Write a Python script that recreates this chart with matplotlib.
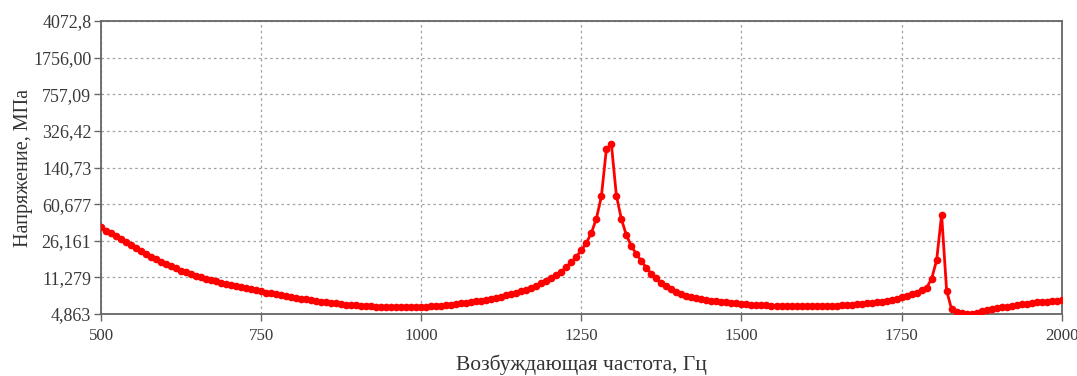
import numpy as np
import matplotlib
matplotlib.use("Agg")
import matplotlib.pyplot as plt
from matplotlib.ticker import FixedLocator, FixedFormatter, NullLocator

# Excitation frequency grid (Hz): 193 equally spaced points, 500..2000
freq = np.linspace(500, 2000, 193)

# Stress amplitude (MPa), one value per frequency point
stress = [
    35.5, 33.0, 30.9, 29.0, 27.1, 25.3, 23.6, 22.0, 20.6, 19.3,
    18.1, 17.1, 16.2, 15.3, 14.6, 13.9, 13.2, 12.7, 12.2, 11.75,
    11.3, 10.95, 10.6, 10.3, 10.0, 9.7, 9.45, 9.2, 8.95, 8.75,
    8.55, 8.35, 8.2, 7.95, 7.8, 7.62, 7.47, 7.32, 7.18, 7.05,
    6.93, 6.8, 6.68, 6.57, 6.46, 6.36, 6.27, 6.19, 6.11, 6.04,
    5.98, 5.93, 5.88, 5.84, 5.80, 5.77, 5.75, 5.73, 5.72, 5.71,
    5.70, 5.70, 5.71, 5.72, 5.73, 5.75, 5.79, 5.84, 5.9, 5.96,
    6.02, 6.1, 6.19, 6.28, 6.38, 6.5, 6.62, 6.76, 6.92, 7.08,
    7.25, 7.45, 7.68, 7.92, 8.2, 8.52, 8.88, 9.3, 9.8, 10.4,
    11.1, 11.9, 12.9, 14.3, 15.9, 18.2, 21.0, 24.9, 31.3, 43.5,
    72.4, 215.0, 241.0, 73.6, 43.0, 29.7, 23.0, 19.3, 16.4, 14.0,
    12.3, 11.0, 10.0, 9.2, 8.55, 8.05, 7.65, 7.35, 7.12, 6.95,
    6.82, 6.7, 6.6, 6.5, 6.42, 6.35, 6.28, 6.21, 6.15, 6.06,
    6.02, 5.98, 5.95, 5.92, 5.89, 5.87, 5.85, 5.83, 5.82, 5.81,
    5.8, 5.8, 5.8, 5.81, 5.82, 5.84, 5.86, 5.89, 5.93, 5.98,
    6.03, 6.08, 6.14, 6.2, 6.28, 6.37, 6.47, 6.6, 6.75, 6.92,
    7.12, 7.38, 7.7, 7.95, 8.45, 8.9, 10.9, 16.7, 47.6, 8.3,
    5.4, 5.05, 4.93, 4.863, 4.9, 5.0, 5.15, 5.3, 5.42, 5.55,
    5.65, 5.75, 5.85, 5.95, 6.05, 6.15, 6.25, 6.33, 6.4, 6.47,
    6.53, 6.6, 6.66,
]

x_ticks = [500, 750, 1000, 1250, 1500, 1750, 2000]
y_ticks = [4.863, 11.279, 26.161, 60.677, 140.73, 326.42, 757.09, 1756.00, 4072.8]
y_tick_labels = ["4,863", "11,279", "26,161", "60,677", "140,73", "326,42",
                 "757,09", "1756,00", "4072,8"]

x_label = "Возбуждающая частота, Гц"
y_label = "Напряжение, МПа"

plt.rcParams['font.family'] = ['Liberation Serif', 'DejaVu Serif']

fig = plt.figure(figsize=(10.77, 3.76), dpi=100)
ax = fig.add_axes([0.0938, 0.165, 0.892, 0.779])

ax.plot(freq, stress, color='#ff0000', lw=2.0, marker='o', markersize=5.5,
        markeredgewidth=0, zorder=3)

ax.set_yscale('log')
ax.set_xlim(500, 2000)
ax.set_ylim(4.863, 4072.8)
ax.xaxis.set_major_locator(FixedLocator(x_ticks))
ax.yaxis.set_major_locator(FixedLocator(y_ticks))
ax.yaxis.set_major_formatter(FixedFormatter(y_tick_labels))
ax.yaxis.set_minor_locator(NullLocator())
ax.xaxis.set_minor_locator(NullLocator())

ax.grid(True, which='major', color='#a0a0a0', linestyle=(0, (2, 2.5)), lw=0.9)
for s in ax.spines.values():
    s.set_color('#666666')
    s.set_linewidth(1.3)

ax.tick_params(axis='both', direction='out', length=5, width=1, color='#666666',
               labelcolor='#3a3a3a')
ax.tick_params(axis='x', pad=5, labelsize=12.2)
ax.tick_params(axis='y', pad=2, labelsize=13)

ax.set_xlabel(x_label, fontsize=15.5, color='#333333', labelpad=8)
ax.set_ylabel(y_label, fontsize=14.5, color='#333333', labelpad=0)

fig.savefig('out.png', dpi=100)
